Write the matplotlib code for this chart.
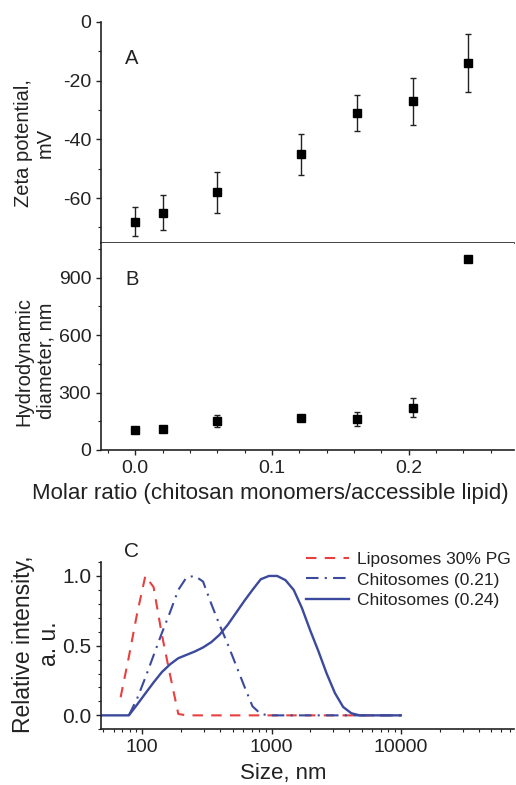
import numpy as np
import matplotlib
matplotlib.use('Agg')
import matplotlib.pyplot as plt
from matplotlib.ticker import MultipleLocator, FixedLocator, LogLocator, NullFormatter

plt.rcParams['font.family'] = ['Liberation Sans', 'DejaVu Sans']
plt.rcParams['axes.unicode_minus'] = False
plt.rcParams['text.color'] = '#222222'
plt.rcParams['xtick.color'] = '#222222'
plt.rcParams['ytick.color'] = '#222222'

# panel A / B : molar ratio series
ratio = [0.0, 0.02, 0.06, 0.121, 0.162, 0.203, 0.243]
zeta = [-68, -65, -58, -45, -31, -27, -14]
zeta_err = [5, 6, 7, 7, 6, 8, 10]
diam = [105, 111, 152, 169, 162, 221, 1000]
diam_err = [0, 0, 33, 15, 35, 50, 0]

# panel C : size distributions (nm)
size_lipo = [68.06, 78.82, 91.28, 105.7, 122.4, 141.8, 164.2, 190.1, 220.2,
             342.0, 531.2, 825.0, 1281, 1990, 3091, 4801, 7456, 10000]
int_lipo = [0.13, 0.42, 0.73, 1.0, 0.92, 0.58, 0.29, 0.01, 0.0,
            0.0, 0.0, 0.0, 0.0, 0.0, 0.0, 0.0, 0.0, 0.0]

size_c21 = [78.82, 91.28, 105.7, 122.4, 141.8, 164.2, 190.1, 220.2, 255.0,
            295.3, 342.0, 396.1, 458.7, 531.2, 615.1, 712.4, 825.0, 955.4,
            1484, 2305, 3580, 5560, 10000]
int_c21 = [0.0, 0.12, 0.27, 0.43, 0.59, 0.74, 0.90, 0.99, 1.0,
           0.96, 0.80, 0.65, 0.51, 0.36, 0.21, 0.065, 0.01, 0.0,
           0.0, 0.0, 0.0, 0.0, 0.0]

size_c24 = [43.82, 50.75, 58.77, 68.06, 78.82, 91.28, 105.7, 122.4, 141.8,
            164.2, 190.1, 220.2, 255.0, 295.3, 342.0, 396.1, 458.7, 531.2,
            615.1, 712.4, 825.0, 955.4, 1106, 1281, 1484, 1718, 1990, 2305,
            2669, 3091, 3580, 4145, 4801, 5560, 6439, 7456, 8635, 10000]
int_c24 = [0.0, 0.0, 0.0, 0.0, 0.0, 0.077, 0.157, 0.236, 0.31,
           0.366, 0.41, 0.434, 0.458, 0.487, 0.525, 0.578, 0.65, 0.735,
           0.82, 0.90, 0.976, 1.0, 1.0, 0.97, 0.90, 0.77, 0.61, 0.46,
           0.30, 0.16, 0.06, 0.015, 0.0, 0.0, 0.0, 0.0, 0.0, 0.0]

W, H = 516, 785
fig = plt.figure(figsize=(W / 100, H / 100), dpi=100)

def box(l, t, r, b):
    return [l / W, 1 - b / H, (r - l) / W, (b - t) / H]

def style(ax, fs=14):
    for s in ['top', 'right']:
        ax.spines[s].set_visible(False)
    for s in ['left', 'bottom']:
        ax.spines[s].set_linewidth(1.2)
        ax.spines[s].set_color('#222222')
    ax.tick_params(which='major', direction='out', length=3.5, width=1.0, labelsize=fs)
    ax.tick_params(which='minor', direction='out', length=2, width=0.8)

axA = fig.add_axes(box(101, 22, 514, 242.7))
axB = fig.add_axes(box(101, 242.7, 514, 450))
axC = fig.add_axes(box(101, 562, 514, 729.3))

# A
axA.errorbar(ratio, zeta, yerr=zeta_err, fmt='s', color='black', ms=5.5,
             ecolor='#222222', elinewidth=1.0, capsize=2, capthick=1.0)
axA.set_xlim(-0.025, 0.277)
axA.set_ylim(-75.2, 0)
axA.yaxis.set_major_locator(FixedLocator([-60, -40, -20, 0]))
axA.yaxis.set_minor_locator(MultipleLocator(10))
axA.xaxis.set_major_locator(MultipleLocator(0.1))
axA.xaxis.set_minor_locator(MultipleLocator(0.02))
style(axA)
axA.tick_params(axis='x', which='both', labelbottom=False)
axA.text(131.7 / W, 1 - 59 / H, 'A', transform=fig.transFigure, fontsize=14.5,
         ha='center', va='center')

# B
axB.errorbar(ratio, diam, yerr=diam_err, fmt='s', color='black', ms=5.5,
             ecolor='#222222', elinewidth=1.0, capsize=2, capthick=1.0)
axB.set_xlim(-0.025, 0.277)
axB.set_ylim(0, 1083)
axB.yaxis.set_major_locator(MultipleLocator(300))
axB.yaxis.set_minor_locator(MultipleLocator(150))
axB.xaxis.set_major_locator(MultipleLocator(0.1))
axB.xaxis.set_minor_locator(MultipleLocator(0.02))
axB.xaxis.set_major_formatter(plt.FuncFormatter(lambda v, p: '%.1f' % v))
style(axB)
axB.text(131.7 / W, 1 - 280 / H, 'B', transform=fig.transFigure, fontsize=14.5,
         ha='center', va='center')

fig.text(270 / W, 1 - 493 / H, 'Molar ratio (chitosan monomers/accessible lipid)',
         ha='center', va='center', fontsize=16)
fig.text(34.5 / W, 1 - 143 / H, 'Zeta potential,\nmV', rotation=90, ha='center',
         va='center', fontsize=14.5, linespacing=1.2, multialignment='center')
fig.text(34.5 / W, 1 - 361 / H, 'Hydrodynamic\ndiameter, nm', rotation=90, ha='center',
         va='center', fontsize=14.5, linespacing=1.2, multialignment='center')

# C
red = '#e8403e'
blue = '#3b4a9c'
axC.plot(size_lipo, int_lipo, color=red, lw=1.5, dashes=(5, 4), label='Liposomes 30% PG')
axC.plot(size_c21, int_c21, color=blue, lw=1.5, dashes=(6, 3, 1, 3), label='Chitosomes (0.21)')
axC.plot(size_c24, int_c24, color=blue, lw=1.7, label='Chitosomes (0.24)')
axC.set_xscale('log')
axC.set_xlim(48, 75000)
axC.set_ylim(-0.1, 1.1)
axC.xaxis.set_major_locator(FixedLocator([100, 1000, 10000]))
axC.xaxis.set_major_formatter(plt.FuncFormatter(lambda v, p: '%d' % v))
axC.xaxis.set_minor_locator(LogLocator(base=10, subs=np.arange(2, 10)))
axC.xaxis.set_minor_formatter(NullFormatter())
axC.yaxis.set_major_locator(FixedLocator([0.0, 0.5, 1.0]))
axC.yaxis.set_major_formatter(plt.FuncFormatter(lambda v, p: '%.1f' % v))
axC.yaxis.set_minor_locator(MultipleLocator(0.1))
style(axC, fs=14)
axC.tick_params(axis='y', which='major', labelsize=15)
axC.text(131.7 / W, 1 - 551.7 / H, 'C', transform=fig.transFigure, fontsize=15,
         ha='center', va='center')
axC.legend(loc='upper left', bbox_to_anchor=(306 / W, 1 - 552 / H),
           bbox_transform=fig.transFigure, frameon=False, fontsize=12.5,
           handlelength=2.5, handletextpad=0.45, labelspacing=0.3,
           borderpad=0, borderaxespad=0)
fig.text(283 / W, 1 - 774 / H, 'Size, nm', ha='center', va='center', fontsize=16)
fig.text(36.5 / W, 1 - 644 / H, 'Relative intensity,\na. u.', rotation=90, ha='center',
         va='center', fontsize=16.5, linespacing=1.15, multialignment='center')

fig.savefig('out.png', dpi=100)
